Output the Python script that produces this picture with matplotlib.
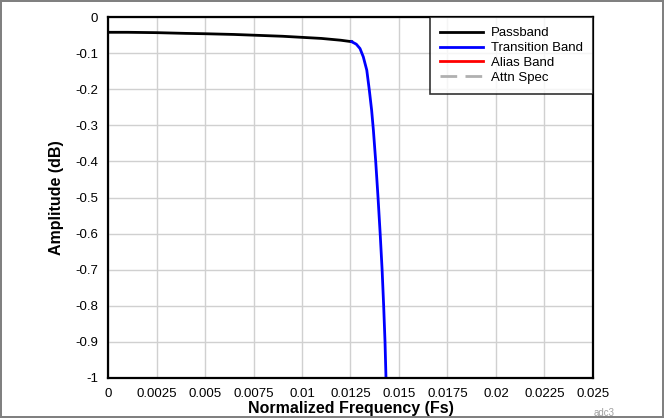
import matplotlib.pyplot as plt

plt.rcParams['font.family'] = ['Liberation Sans', 'DejaVu Sans']

# passband response
pass_f = [0.0, 0.001, 0.0025, 0.004, 0.005, 0.0065, 0.0075, 0.009, 0.01, 0.011, 0.012, 0.01256]
pass_db = [-0.042, -0.042, -0.043, -0.045, -0.046, -0.048, -0.050, -0.053, -0.056, -0.059, -0.064, -0.068]

# transition band
trans_f = [0.01256, 0.01280, 0.01299, 0.01316, 0.01334, 0.01347, 0.01359, 0.01368, 0.01380,
           0.01392, 0.01403, 0.01413, 0.01421, 0.01428, 0.01433]
trans_db = [-0.068, -0.075, -0.087, -0.110, -0.147, -0.202, -0.258, -0.313, -0.4,
            -0.5, -0.6, -0.7, -0.8, -0.9, -1.0]

xticks = [0, 0.0025, 0.005, 0.0075, 0.01, 0.0125, 0.015, 0.0175, 0.02, 0.0225, 0.025]
xtick_labels = ['0', '0.0025', '0.005', '0.0075', '0.01', '0.0125', '0.015', '0.0175', '0.02', '0.0225', '0.025']
yticks = [0, -0.1, -0.2, -0.3, -0.4, -0.5, -0.6, -0.7, -0.8, -0.9, -1]
ytick_labels = ['0', '-0.1', '-0.2', '-0.3', '-0.4', '-0.5', '-0.6', '-0.7', '-0.8', '-0.9', '-1']

fig = plt.figure(figsize=(6.64, 4.18), dpi=100)
fig.patch.set_edgecolor('#808080')
fig.patch.set_linewidth(1.5)
ax = fig.add_axes([0.1627, 0.0957, 0.7303, 0.8633])

ax.plot(pass_f, pass_db, color='black', lw=2, label='Passband')
ax.plot(trans_f, trans_db, color='blue', lw=2, label='Transition Band')
ax.plot([], [], color='red', lw=2, label='Alias Band')
ax.plot([], [], color='#b0b0b0', lw=2, ls=(0, (6, 3)), label='Attn Spec')

ax.set_xlim(0, 0.025)
ax.set_ylim(-1, 0)
ax.set_xticks(xticks)
ax.set_xticklabels(xtick_labels)
ax.set_yticks(yticks)
ax.set_yticklabels(ytick_labels)
ax.tick_params(length=0, labelsize=9.5, pad=7)
ax.grid(True, color='#d0d0d0', lw=1)
for s in ax.spines.values():
    s.set_linewidth(1.6)

ax.set_xlabel('Normalized Frequency (Fs)', fontsize=11.5, fontweight='bold', labelpad=1)
ax.set_ylabel('Amplitude (dB)', fontsize=11.5, fontweight='bold', labelpad=8)

leg = ax.legend(loc='upper right', fontsize=9.5, frameon=True, fancybox=False,
                borderaxespad=0, handlelength=3.3, labelspacing=0.2,
                handletextpad=0.6, borderpad=0.75)
leg.get_frame().set_edgecolor('black')
leg.get_frame().set_linewidth(1.2)

fig.text(0.925, 0.005, 'adc3', fontsize=7, color='#a0a0a0', ha='right')

fig.savefig('out.png', dpi=100, edgecolor=fig.get_edgecolor())
